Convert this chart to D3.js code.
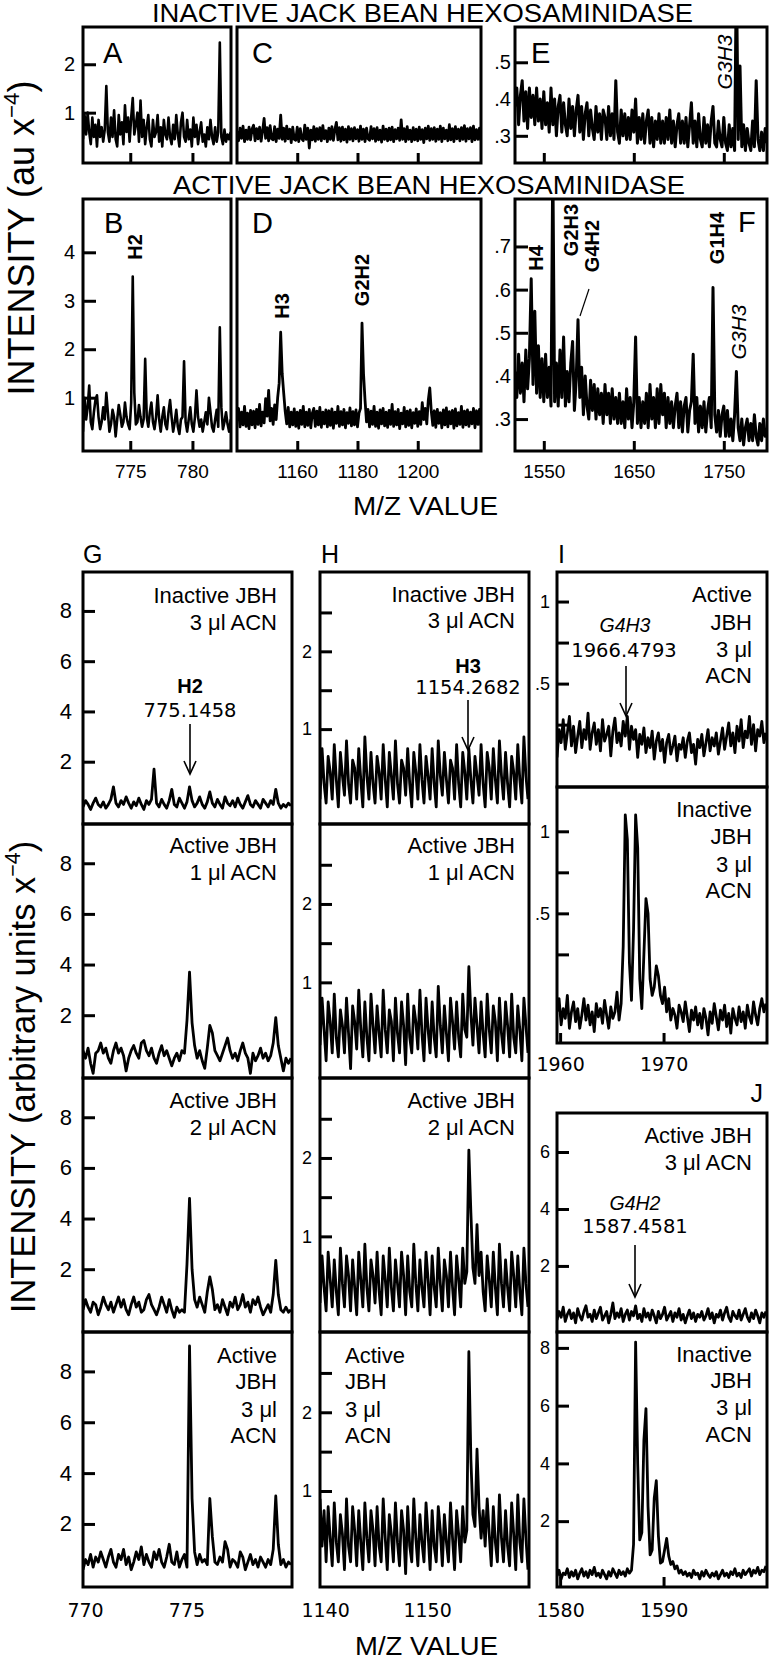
<!DOCTYPE html>
<html><head><meta charset="utf-8">
<script src="https://cdn.jsdelivr.net/npm/d3@7"></script>
<style>body{margin:0;background:#fff}svg{display:block}</style>
</head><body>
<script>
// ================= DATA =================
const titleTop = "INACTIVE JACK BEAN HEXOSAMINIDASE";
const titleMid = "ACTIVE JACK BEAN HEXOSAMINIDASE";
const xAxisTitle = "M/Z VALUE";

// Panels A & B: m/z 771.2 .. 783.1
const AB_mz0 = 771.2, AB_dmz = 0.125;
const A_int = [0.45,0.95,0.55,1.0,0.6,0.35,0.9,0.5,0.75,0.3,
0.85,0.5,0.7,0.4,0.65,1.55,0.6,0.4,0.9,0.5,
1.05,0.45,0.3,0.95,0.55,0.8,0.35,1.15,0.6,0.9,
0.4,0.9,1.3,0.55,0.75,1.0,0.4,1.25,0.5,0.85,
0.35,0.7,0.95,0.45,0.3,0.85,0.5,0.6,0.95,0.4,
0.7,0.3,0.85,0.55,0.45,0.9,0.5,0.35,0.75,0.45,
0.95,0.55,0.3,0.8,1.0,0.5,0.4,0.85,0.45,0.65,
0.3,0.9,0.5,0.75,0.35,0.6,0.8,0.4,0.55,0.3,
0.7,0.45,0.85,0.5,0.35,0.7,0.4,0.6,2.45,0.5,
0.35,0.65,0.4,0.55,0.45,0.6];
const B_int = [0.3,1.0,0.55,0.8,1.25,0.5,0.35,0.7,0.95,1.05,
0.6,0.35,0.5,0.8,0.55,1.1,0.7,0.3,0.45,0.75,
0.6,0.2,0.55,0.85,0.65,0.4,0.5,0.9,0.6,0.45,
0.35,0.9,3.5,1.1,0.45,0.5,0.85,0.6,0.4,0.55,
1.8,0.6,0.4,0.7,0.9,0.5,0.35,0.6,1.05,0.55,
0.3,0.6,0.8,0.45,0.35,0.7,0.95,0.6,0.3,0.5,
0.75,0.4,0.25,0.55,0.6,1.75,0.5,0.3,0.55,0.8,
0.45,0.3,0.6,1.15,0.6,0.4,0.55,0.3,0.5,0.7,
0.45,1.0,0.7,0.4,0.3,0.55,0.75,0.4,2.45,0.8,
0.35,0.5,0.7,0.45,0.3,0.55];

// Panels C & D: m/z 1140 .. 1221
const CD_mz0 = 1140, CD_dmz = 0.5;
const C_int = [.62,.42,.68,.47,.72,.40,.64,.45,.70,.44,
.66,.74,.42,.67,.46,.70,.41,.63,.88,.47,
.69,.42,.73,.46,.44,.71,.40,.66,.47,.95,
.45,.68,.41,.72,.46,.66,.38,.70,.45,.43,
.70,.40,.67,.46,.42,.74,.45,.68,.27,.64,
.44,.71,.41,.67,.45,.69,.42,.73,.46,.63,
.40,.68,.45,.71,.43,.65,.80,.44,.69,.41,
.70,.44,.66,.39,.71,.45,.67,.42,.69,.46,
.65,.41,.72,.45,.66,.40,.68,.46,.43,.71,
.46,.67,.41,.69,.44,.64,.39,.72,.45,.66,
.42,.68,.44,.70,.40,.65,.46,.68,.43,.85,
.45,.67,.40,.71,.45,.64,.40,.69,.44,.66,
.42,.70,.45,.65,.38,.68,.46,.72,.43,.67,
.45,.69,.41,.66,.45,.72,.40,.68,.46,.64,
.42,.75,.44,.67,.40,.71,.46,.66,.42,.69,
.45,.73,.41,.67,.46,.69,.40,.72,.44,.65,
.45,.68,.42];
const D_int = [.52,.78,.40,.70,.44,.82,.41,.68,.36,.74,
.44,.72,.38,.76,.45,.86,.42,.70,.48,.98,
.62,1.15,.52,.78,.45,.85,.55,1.0,1.3,2.35,
1.5,1.1,.72,.46,.80,.40,.70,.44,.77,.41,
.70,.37,.74,.45,.82,.40,.70,.43,.76,.38,
.68,.78,.41,.72,.44,.80,.39,.70,.46,.75,
.40,.73,.43,.77,.37,.70,.47,.82,.41,.71,
.44,.76,.38,.69,.47,.79,.42,.71,.44,.75,
.40,.68,.78,2.54,1.5,.95,.50,.76,.40,.72,
.45,.82,.41,.70,.37,.75,.46,.78,.42,.70,
.39,.74,.45,.86,.41,.71,.44,.76,.36,.68,
.46,.80,.40,.72,.43,.75,.38,.69,.47,.77,
.41,.71,.45,.90,.55,.78,.46,.95,1.2,.72,
.43,.73,.39,.76,.47,.69,.38,.75,.44,.79,
.40,.71,.46,.74,.37,.77,.42,.69,.45,.82,
.39,.72,.44,.75,.41,.70,.46,.78,.38,.73,
.45,.76,.42];

// Panels E & F: m/z 1518 .. 1798
const EF_mz0 = 1518, EF_dmz = 2;
const E_int = [.38,.43,.33,.41,.45,.34,.42,.32,.43,.35,
.41,.33,.43,.34,.40,.32,.42,.33,.39,.31,
.43,.33,.40,.30,.38,.41,.31,.39,.33,.30,
.40,.32,.38,.30,.37,.41,.31,.38,.29,.36,
.39,.30,.37,.32,.29,.38,.31,.36,.29,.37,
.35,.29,.38,.30,.36,.29,.45,.31,.28,.37,
.30,.36,.29,.35,.29,.37,.31,.40,.28,.35,
.29,.36,.28,.34,.37,.28,.35,.27,.34,.29,
.36,.28,.34,.28,.35,.29,.37,.28,.34,.27,
.33,.36,.28,.34,.28,.35,.27,.33,.39,.28,
.34,.27,.36,.29,.27,.35,.28,.33,.27,.34,
.38,.28,.27,.34,.29,.27,.35,.28,.26,.33,
.27,.32,.26,.75,.29,.49,.27,.33,.26,.32,
.28,.26,.34,.27,.45,.29,.26,.31,.26,.32,
.28];
const F_int = [.41,.35,.45,.36,.43,.34,.46,.37,.44,.625,
.38,.55,.36,.47,.35,.44,.34,.45,.35,.42,
.33,.90,.34,.43,.33,.46,.35,.49,.33,.41,
.34,.43,.48,.32,.39,.53,.35,.42,.31,.40,
.33,.30,.39,.32,.38,.30,.37,.31,.36,.29,
.38,.31,.36,.29,.37,.30,.35,.29,.36,.29,
.34,.28,.37,.30,.35,.28,.34,.49,.29,.35,
.28,.34,.29,.36,.28,.38,.30,.35,.28,.37,
.29,.38,.31,.36,.28,.35,.29,.34,.28,.33,
.36,.28,.34,.27,.33,.35,.27,.32,.34,.45,
.29,.35,.27,.33,.28,.34,.27,.32,.35,.28,
.605,.31,.27,.32,.26,.31,.33,.26,.32,.26,
.30,.25,.31,.41,.28,.25,.30,.24,.28,.30,
.25,.29,.25,.31,.26,.24,.29,.25,.30,.26,
.28];

// Panel G: m/z 769.9 .. 780.2
const G_mz0 = 769.9, G_dmz = 0.125;
const G1_int = [0.2,0.45,0.3,0.1,0.35,0.55,0.3,0.2,0.4,0.15,
0.3,0.5,1.0,0.35,0.2,0.45,0.3,0.6,0.35,0.15,
0.4,0.25,0.55,0.3,0.1,0.45,0.3,0.5,1.7,0.35,
0.2,0.5,0.3,0.15,0.45,0.9,0.3,0.2,0.55,0.35,
0.15,0.4,1.0,0.45,0.2,0.35,0.6,0.3,0.15,0.4,
0.8,0.35,0.2,0.5,0.3,0.15,0.6,0.35,0.25,0.45,
0.2,0.55,0.3,0.15,0.4,0.65,0.3,0.2,0.45,0.3,
0.15,0.5,0.35,0.2,0.45,0.3,0.9,0.35,0.15,0.3,
0.2,0.35,0.25];
const G2_int = [0.6,0.3,0.7,0.1,-0.3,0.5,0.6,0.9,0.5,0.7,
0.3,0.1,0.6,0.9,0.5,0.7,0.4,-0.2,0.3,0.6,
0.8,0.5,0.3,0.9,1.0,0.6,0.4,0.7,0.3,0.1,
0.5,0.8,0.4,0.6,0.3,0.0,0.3,0.5,0.2,0.6,
0.5,1.8,3.7,1.7,0.8,0.3,0.6,0.2,-0.1,0.7,
1.6,1.3,0.6,0.4,0.2,0.5,0.8,1.1,0.6,0.3,
0.5,0.2,0.6,0.9,0.5,0.3,-0.3,0.5,0.2,0.4,
0.7,0.3,0.5,0.2,0.4,0.9,1.9,0.8,0.3,-0.2,
0.3,0.1,0.3];
const G3_int = [0.4,0.8,0.5,0.3,0.7,0.6,0.2,0.5,0.9,0.6,
0.4,0.7,0.3,0.6,0.9,0.5,0.8,0.4,0.2,0.6,
0.9,0.5,0.7,0.3,0.4,0.8,1.0,0.6,0.4,0.2,
0.5,0.9,0.6,0.3,0.8,0.4,0.1,0.5,0.3,0.4,
0.3,2.2,4.8,2.0,0.8,0.5,0.9,0.6,0.3,1.1,
1.7,1.2,0.4,0.6,0.3,0.8,0.5,0.2,0.7,0.5,
0.9,0.4,0.6,1.0,0.5,0.7,0.3,0.8,0.6,0.9,
0.5,0.2,0.4,0.6,0.3,1.0,2.35,1.0,0.4,0.3,
0.5,0.3,0.4];
const G4_int = [0.2,0.6,0.4,0.8,0.3,0.7,0.5,0.9,0.6,0.3,
0.7,1.0,0.5,0.3,0.8,0.6,1.0,0.4,0.7,0.2,
0.5,0.9,0.6,1.1,0.4,0.8,0.5,0.3,0.9,0.6,
1.0,0.5,0.3,0.7,1.2,0.5,0.4,0.9,0.3,0.6,
0.8,0.3,9.0,3.0,0.9,0.4,0.8,0.5,0.6,0.4,
3.0,1.5,0.5,0.4,0.7,0.5,1.3,1.0,0.3,0.6,
0.5,0.3,0.9,0.7,0.2,0.5,0.8,0.4,0.6,0.3,
0.7,0.5,0.3,0.6,0.4,1.0,3.1,1.2,0.4,0.6,
0.3,0.5,0.4];

// Panel H: m/z 1139.5 .. 1160
const H_mz0 = 1139.5, H_dmz = 0.2;
const H1_int = [.1,.75,.3,.05,.65,.45,.1,.8,.35,.0,
.7,.4,.15,.85,.3,.05,.6,.5,.1,.75,
.35,.0,.9,.4,.1,.7,.3,.05,.65,.45,
.1,.8,.35,.0,.7,.4,.1,.85,.3,.05,
.6,.5,.15,.75,.3,.0,.7,.45,.1,.8,
.35,.05,.65,.4,.1,.75,.3,.0,.85,.4,
.15,.7,.35,.05,.6,.5,.1,.8,.3,.0,
.7,.45,.1,.75,.35,.05,.65,.4,.15,.8,
.3,.0,.7,.5,.1,.75,.35,.05,.85,.4,
.1,.7,.3,.0,.65,.45,.1,.8,.35,.05,
.9,.4,.1];
const H2_int = [.2,.8,.4,.0,.75,.5,.1,.85,.3,.05,
.65,.45,.1,.8,.35,-.1,.7,.5,.15,.9,
.4,.05,.75,.3,.0,.85,.45,.1,.7,.35,
.05,.9,.4,.1,.65,.5,.0,.8,.35,.1,
.75,.45,-.05,.85,.3,.1,.7,.5,.15,.9,
.35,.0,.8,.4,.1,.75,.3,.05,.95,.45,
.1,.7,.35,.0,.8,.5,.15,.75,.3,.05,
.85,.4,.3,1.2,.6,.2,.8,.45,.1,.75,
.35,.05,.85,.4,.1,.7,.5,.0,.8,.35,
.1,.75,.45,.05,.85,.3,.1,.7,.4,.0,
.8,.45,.1];
const H3_int = [.15,.75,.35,.05,.8,.45,.1,.7,.3,.0,
.85,.4,.1,.75,.5,.05,.7,.35,.0,.8,
.45,.1,.9,.35,.05,.7,.5,.15,.8,.3,
.0,.75,.45,.1,.85,.35,.05,.7,.4,.1,
.8,.5,.0,.75,.3,.1,.9,.4,.05,.7,
.35,.1,.8,.45,.0,.75,.35,.1,.85,.4,
.05,.7,.5,.1,.8,.35,.0,.75,.45,.1,
.85,.4,.55,2.1,1.3,.6,.4,1.15,.5,.8,
.3,.05,.75,.45,.1,.8,.35,.0,.9,.4,
.1,.7,.35,.05,.8,.5,.1,.75,.3,.0,
.85,.4,.1];
const H4_int = [.9,.3,.75,.1,.8,.4,.05,.85,.35,.1,
.7,.45,.0,.9,.3,.1,.8,.5,.05,.75,
.35,.0,.85,.4,.1,.75,.5,.05,.8,.3,
.1,.9,.4,.0,.7,.45,.1,.85,.35,.05,
.75,.5,-.05,.8,.3,.1,.9,.4,.05,.7,
.35,.1,.85,.45,.0,.75,.3,.1,.8,.5,
.05,.7,.35,.1,.85,.4,.0,.75,.45,.1,
.8,.35,.5,2.77,1.4,.7,.55,1.53,.8,.4,
.75,.3,.9,.45,.05,.8,.35,.1,.95,.4,
.1,.75,.3,.05,.85,.45,.0,.95,.35,.1,
.9,.4,.0];

// Panel I: m/z 1959.7 .. 1980
const I_mz0 = 1959.7, I_dmz = 0.2;
const I1_int = [.05,.22,.14,.28,.1,.2,.3,.12,.24,.08,
.18,.27,.11,.22,.16,.32,.1,.2,.26,.13,
.22,.09,.28,.15,.19,.24,.06,.21,.29,.14,
.2,.12,.27,.18,.3,.1,.24,.16,.22,.05,
.19,.13,.23,.08,.17,.11,.21,.04,.15,.2,
.09,.16,.02,.14,.19,.07,.12,.18,.03,.13,
.1,.17,.05,.15,.2,.08,.13,.01,.16,.11,
.19,.06,.14,.22,.09,.17,.12,.2,.07,.15,
.23,.1,.18,.26,.12,.2,.08,.24,.15,.28,
.11,.21,.17,.3,.13,.25,.09,.22,.18,.27,
.14,.2];
const I2_int = [-.1,-.02,-.18,-.08,-.14,.0,-.2,-.1,-.04,-.16,
-.08,-.2,-.12,-.02,-.15,-.06,-.18,-.1,-.22,-.05,
-.13,-.08,-.17,-.03,-.12,-.2,-.07,-.14,-.1,.02,
-.15,-.05,.3,1.1,.95,.2,-.03,.4,1.1,.9,
.1,-.08,.25,.59,.5,.1,.0,.05,.18,.12,
.0,-.05,.05,-.1,-.02,-.15,-.08,-.12,-.2,-.06,
-.1,-.16,-.04,-.13,-.22,-.09,-.15,-.07,-.18,-.11,
-.2,-.08,-.14,-.24,-.1,-.17,-.05,-.13,-.21,-.09,
-.15,-.06,-.19,-.11,-.23,-.08,-.14,-.18,-.07,-.16,
-.1,-.2,-.06,-.13,-.17,-.04,-.12,-.18,-.08,-.02,
-.1,-.05];

// Panel J: m/z 1579.7 .. 1600
const J_mz0 = 1579.7, J_dmz = 0.2;
const J1_int = [.1,.4,.2,.55,.05,.3,.45,.15,.35,.0,
.5,.25,.1,.4,.6,.2,.3,.05,.45,.15,
.35,.55,.1,.25,.4,.0,.3,.7,.15,.35,
.2,.5,.05,.3,.45,.1,.4,.25,.6,.15,
.3,.05,.5,.2,.35,.1,.45,.25,.0,.4,
.15,.3,.55,.1,.25,.4,.05,.35,.2,.5,
.1,.3,.0,.25,.45,.15,.35,.05,.3,.2,
.4,.1,.25,.5,.15,.35,.0,.3,.2,.45,
.1,.35,.55,.2,.05,.4,.25,.15,.45,.1,
.3,.5,.2,.05,.35,.15,.45,.25,.0,.35,
.2,.4];
const J2_int = [.1,.3,.0,.2,.15,.35,.05,.25,.1,.3,
.0,.2,.35,.1,.25,.05,.3,.15,.4,.1,
.2,.05,.3,.15,.0,.25,.1,.35,.2,.05,
.3,.15,.25,.1,.35,.2,.3,1.2,8.2,4.0,
1.35,1.6,4.8,5.9,2.5,.83,1.0,2.8,3.4,1.5,
.55,.6,1.0,1.4,.8,.5,.6,.35,.45,.2,
.3,.15,.25,.1,.2,.05,.3,.15,.2,.0,
.25,.1,.3,.15,.05,.2,.1,.25,.0,.15,
.3,.1,.2,.05,.25,.15,.35,.1,.2,.05,
.3,.15,.25,.35,.1,.3,.2,.4,.15,.3,
.25,.45];

// tick values / labels
const ticksA = [1,2], ticksB = [1,2,3,4], ticksE = [0.3,0.4,0.5], ticksF = [0.3,0.4,0.5,0.6,0.7];
const xticksAB = [775,780], xticksCD = [1160,1180,1200], xticksEF = [1550,1650,1750];
const ticksG = [2,4,6,8], ticksH = [1,1.5,2,2.5], ticksHlab = [1,2];
const ticksI = [0.25,0.5,0.75,1], ticksIlab = [0.5,1];
const ticksJ1 = [2,4,6], ticksJ2 = [2,4,6,8];
const xticksG = [770,775], xticksH = [1140,1150], xticksI = [1960,1970], xticksJ = [1580,1590];

// ================= DRAW =================
const SANS = "'Liberation Sans', Arial, Helvetica, sans-serif";
const NARROW = "'Liberation Sans Narrow', 'Liberation Sans', Arial, sans-serif";
const DJV = "'DejaVu Sans', Verdana, sans-serif";
const svg = d3.select("body").append("svg").attr("width",770).attr("height",1659);
svg.append("rect").attr("width",770).attr("height",1659).attr("fill","#fff");
let clipN = 0;
const fmtTick = d => { const s = String(d); return s.startsWith("0.") ? s.slice(1) : s; };

function panel(c) {
  const x = d3.scaleLinear().domain(c.xd).range([c.l, c.r]);
  const y = d3.scaleLinear().domain(c.yd).range([c.b, c.t]);
  const id = "clip" + (clipN++);
  svg.append("clipPath").attr("id", id).append("rect")
    .attr("x", c.l).attr("y", c.t).attr("width", c.r - c.l).attr("height", c.b - c.t);
  const pts = c.values.map((v, i) => [c.mz0 + i * c.dmz, v]);
  svg.append("path").datum(pts).attr("clip-path", `url(#${id})`)
    .attr("fill", "none").attr("stroke", "#000").attr("stroke-width", c.sw || 2.2)
    .attr("stroke-linejoin", "round")
    .attr("d", d3.line().x(d => x(d[0])).y(d => y(d[1])));
  if (c.yTicks) {
    const lab = c.yLabels || c.yTicks;
    const ax = d3.axisLeft(y).tickValues(c.yTicks).tickSizeInner(-c.ytick).tickSizeOuter(0)
      .tickPadding(c.ypad).tickFormat(d => lab.includes(d) ? fmtTick(d) : "");
    const g = svg.append("g").attr("transform", `translate(${c.l},0)`).call(ax);
    g.select(".domain").remove();
    g.selectAll(".tick line").attr("stroke", "#000").attr("stroke-width", 3);
    g.selectAll(".tick text").attr("fill", "#000").attr("font-size", c.yfs).attr("font-family", c.yff);
  }
  if (c.xTicks) {
    const ax = d3.axisBottom(x).tickValues(c.xTicks).tickSizeInner(-(c.xtick || 0)).tickSizeOuter(0)
      .tickPadding(c.xpad || 14).tickFormat(d => c.xLabels ? String(d) : "");
    const g = svg.append("g").attr("transform", `translate(0,${c.b})`).call(ax);
    g.select(".domain").remove();
    g.selectAll(".tick line").attr("stroke", "#000").attr("stroke-width", 3);
    g.selectAll(".tick text").attr("fill", "#000").attr("font-size", c.xfs).attr("font-family", c.xff);
  }
  svg.append("rect").attr("x", c.l).attr("y", c.t).attr("width", c.r - c.l).attr("height", c.b - c.t)
    .attr("fill", "none").attr("stroke", "#000").attr("stroke-width", 3);
  return {x, y};
}

function txt(x, y, s, o = {}) {
  const t = svg.append("text").attr("x", x).attr("y", y).text(s)
    .attr("font-family", o.ff || SANS).attr("font-size", o.fs || 22)
    .attr("text-anchor", o.anchor || "start").attr("fill", "#000");
  if (o.fw) t.attr("font-weight", o.fw);
  if (o.fst) t.attr("font-style", o.fst);
  if (o.len) t.attr("textLength", o.len).attr("lengthAdjust", "spacingAndGlyphs");
  return t;
}
function rtxt(cx, cy, s, o = {}) {
  const t = svg.append("text").attr("transform", `translate(${cx},${cy}) rotate(-90)`)
    .attr("text-anchor", "middle").attr("dy", "0.36em").text(s)
    .attr("font-family", o.ff || SANS).attr("font-size", o.fs || 19).attr("fill", "#000");
  if (o.fw) t.attr("font-weight", o.fw);
  if (o.fst) t.attr("font-style", o.fst);
  return t;
}
function arrow(x, y0, y1) {
  svg.append("line").attr("x1", x).attr("x2", x).attr("y1", y0).attr("y2", y1)
    .attr("stroke", "#000").attr("stroke-width", 1.6);
  svg.append("path").attr("d", `M${x-6},${y1-13}L${x},${y1}L${x+6},${y1-13}`)
    .attr("fill", "none").attr("stroke", "#000").attr("stroke-width", 1.6);
}
function lines(xr, baselines, arr, o = {}) {
  arr.forEach((s, i) => txt(xr, baselines[i], s, Object.assign({anchor: "end", fs: 22}, o)));
}

// ---- top section ----
const yAC = [-0.04, 2.77], yBD = [-0.1, 5.1];
panel({l:83, r:231, t:27, b:163, xd:[771.2,783.1], yd:yAC, mz0:AB_mz0, dmz:AB_dmz, values:A_int, sw:2.6,
  yTicks:ticksA, ytick:13, ypad:8, yfs:20, yff:NARROW, xTicks:xticksAB, xtick:10});
panel({l:237, r:481, t:27, b:163, xd:[1140,1221], yd:yAC, mz0:CD_mz0, dmz:CD_dmz, values:C_int, sw:2.8,
  xTicks:xticksCD, xtick:10});
panel({l:515, r:767, t:27, b:163, xd:[1518,1798], yd:[0.226,0.596], mz0:EF_mz0, dmz:EF_dmz, values:E_int, sw:3,
  yTicks:ticksE, ytick:13, ypad:4, yfs:20, yff:NARROW, xTicks:xticksEF, xtick:10});
panel({l:83, r:231, t:199, b:451, xd:[771.2,783.1], yd:yBD, mz0:AB_mz0, dmz:AB_dmz, values:B_int, sw:2.6,
  yTicks:ticksB, ytick:13, ypad:8, yfs:20, yff:NARROW, xTicks:xticksAB, xtick:10, xLabels:true, xpad:14, xfs:19, xff:NARROW});
panel({l:237, r:481, t:199, b:451, xd:[1140,1221], yd:yBD, mz0:CD_mz0, dmz:CD_dmz, values:D_int, sw:2.8,
  xTicks:xticksCD, xtick:10, xLabels:true, xpad:14, xfs:19, xff:NARROW});
panel({l:515, r:767, t:199, b:451, xd:[1518,1798], yd:[0.226,0.81], mz0:EF_mz0, dmz:EF_dmz, values:F_int, sw:3,
  yTicks:ticksF, ytick:13, ypad:4, yfs:20, yff:NARROW, xTicks:xticksEF, xtick:10, xLabels:true, xpad:14, xfs:19, xff:NARROW});

txt(152, 22, titleTop, {ff: NARROW, fs: 25, len: 541});
txt(173, 194, titleMid, {ff: NARROW, fs: 25, len: 512});
txt(353, 515, xAxisTitle, {ff: NARROW, fs: 25, len: 145});

// panel letters
[["A",103,63],["C",252,63],["E",531,63],["B",104,233],["D",252,233],["F",738,232]]
  .forEach(d => txt(d[1], d[2], d[0], {fs: 29}));

// peak labels top
rtxt(135, 247, "H2", {fw: "bold", fs: 20});
rtxt(282, 306, "H3", {fw: "bold", fs: 20});
rtxt(362, 280, "G2H2", {fw: "bold", fs: 20});
rtxt(536, 258, "H4", {fw: "bold", fs: 20});
rtxt(571, 230, "G2H3", {fw: "bold", fs: 20});
rtxt(592, 246, "G4H2", {fw: "bold", fs: 20});
rtxt(717, 238, "G1H4", {fw: "bold", fs: 20});
rtxt(738, 332, "G3H3", {fst: "italic", fs: 21});
rtxt(724, 62, "G3H3", {fst: "italic", fs: 21});
svg.append("line").attr("x1", 589).attr("y1", 289).attr("x2", 580).attr("y2", 316)
  .attr("stroke", "#000").attr("stroke-width", 1.2);

// y labels (rotated)
function ylab(cx, cy, main, o) {
  const t = svg.append("text").attr("transform", `translate(${cx},${cy}) rotate(-90)`)
    .attr("text-anchor", "middle").attr("font-family", SANS).attr("font-size", o.fs).attr("fill", "#000");
  t.append("tspan").text(main);
  t.append("tspan").text("\u22124").attr("font-size", o.fs * 0.62).attr("baseline-shift", "70%");
  t.append("tspan").text(")");
}
ylab(34, 238, "INTENSITY (au x", {fs: 36});
ylab(35, 1077, "INTENSITY (arbitrary units x", {fs: 34.5});

// ---- bottom section ----
const rows = [[572,824],[824,1078],[1078,1332],[1332,1587]];
const Gvals = [G1_int, G2_int, G3_int, G4_int];
const Hvals = [H1_int, H2_int, H3_int, H4_int];
rows.forEach((r, i) => {
  const last = i === 3;
  panel({l:83, r:292, t:r[0], b:r[1], xd:[769.9,780.2], yd:[-0.48,9.55], mz0:G_mz0, dmz:G_dmz, values:Gvals[i], sw:2.8,
    yTicks:ticksG, ytick:12, ypad:11, yfs:22, yff:SANS,
    xTicks: last ? xticksG : null, xtick:0, xLabels:true, xpad:17, xfs:19, xff:DJV});
  panel({l:320, r:529, t:r[0], b:r[1], xd:[1139.5,1160], yd:[-0.22,3.02], mz0:H_mz0, dmz:H_dmz, values:Hvals[i], sw:2.8,
    yTicks:ticksH, yLabels:ticksHlab, ytick:12, ypad:8, yfs:18, yff:SANS,
    xTicks: last ? xticksH : null, xtick:0, xLabels:true, xpad:17, xfs:19, xff:DJV});
});
panel({l:557, r:767, t:572, b:787, xd:[1959.7,1980], yd:[-0.13,1.18], mz0:I_mz0, dmz:I_dmz, values:I1_int, sw:2.8,
  yTicks:ticksI, yLabels:ticksIlab, ytick:12, ypad:7, yfs:18, yff:SANS});
panel({l:557, r:767, t:787, b:1043, xd:[1959.7,1980], yd:[-0.29,1.27], mz0:I_mz0, dmz:I_dmz, values:I2_int, sw:2.8,
  yTicks:ticksI, yLabels:ticksIlab, ytick:12, ypad:7, yfs:18, yff:SANS,
  xTicks:xticksI, xtick:10, xLabels:true, xpad:15, xfs:19, xff:DJV});
panel({l:557, r:767, t:1113, b:1332, xd:[1579.7,1600], yd:[-0.32,7.37], mz0:J_mz0, dmz:J_dmz, values:J1_int, sw:2.8,
  yTicks:ticksJ1, ytick:12, ypad:7, yfs:18, yff:SANS});
panel({l:557, r:767, t:1332, b:1587, xd:[1579.7,1600], yd:[-0.28,8.55], mz0:J_mz0, dmz:J_dmz, values:J2_int, sw:2.8,
  yTicks:ticksJ2, ytick:12, ypad:7, yfs:18, yff:SANS,
  xTicks:xticksJ, xtick:10, xLabels:true, xpad:17, xfs:19, xff:DJV});

// panel letters bottom
txt(83, 563, "G", {fs: 25});
txt(321, 563, "H", {fs: 25});
txt(558, 563, "I", {fs: 25});
txt(763, 1102, "J", {fs: 25, anchor: "end"});

// condition labels
lines(277, [603, 630], ["Inactive JBH", "3 \u03bcl ACN"]);
lines(277, [853, 880], ["Active JBH", "1 \u03bcl ACN"]);
lines(277, [1108, 1135], ["Active JBH", "2 \u03bcl ACN"]);
lines(277, [1363, 1389, 1417, 1443], ["Active", "JBH", "3 \u03bcl", "ACN"]);
lines(515, [602, 628], ["Inactive JBH", "3 \u03bcl ACN"]);
lines(515, [853, 880], ["Active JBH", "1 \u03bcl ACN"]);
lines(515, [1108, 1135], ["Active JBH", "2 \u03bcl ACN"]);
["Active", "JBH", "3 \u03bcl", "ACN"].forEach((s, i) => txt(345, [1363,1389,1417,1443][i], s, {fs: 22}));
lines(752, [602, 630, 657, 683], ["Active", "JBH", "3 \u03bcl", "ACN"]);
lines(752, [817, 844, 872, 898], ["Inactive", "JBH", "3 \u03bcl", "ACN"]);
lines(752, [1143, 1170], ["Active JBH", "3 \u03bcl ACN"]);
lines(752, [1362, 1388, 1415, 1442], ["Inactive", "JBH", "3 \u03bcl", "ACN"]);

// peak annotations bottom
txt(190, 693, "H2", {fw: "bold", fs: 20, anchor: "middle"});
txt(190, 717, "775.1458", {ff: DJV, fs: 19.5, anchor: "middle"});
arrow(190, 724, 774);
txt(468, 673, "H3", {fw: "bold", fs: 20, anchor: "middle"});
txt(468, 694, "1154.2682", {ff: DJV, fs: 19.5, anchor: "middle"});
arrow(468, 700, 750);
txt(625, 632, "G4H3", {fst: "italic", fs: 19.5, anchor: "middle"});
txt(624, 657, "1966.4793", {ff: DJV, fs: 19.5, anchor: "middle"});
arrow(626, 666, 716);
txt(635, 1210, "G4H2", {fst: "italic", fs: 19.5, anchor: "middle"});
txt(635, 1233, "1587.4581", {ff: DJV, fs: 19.5, anchor: "middle"});
arrow(635, 1245, 1297);

txt(355, 1655, xAxisTitle, {ff: NARROW, fs: 25, len: 143});
</script>
</body></html>
